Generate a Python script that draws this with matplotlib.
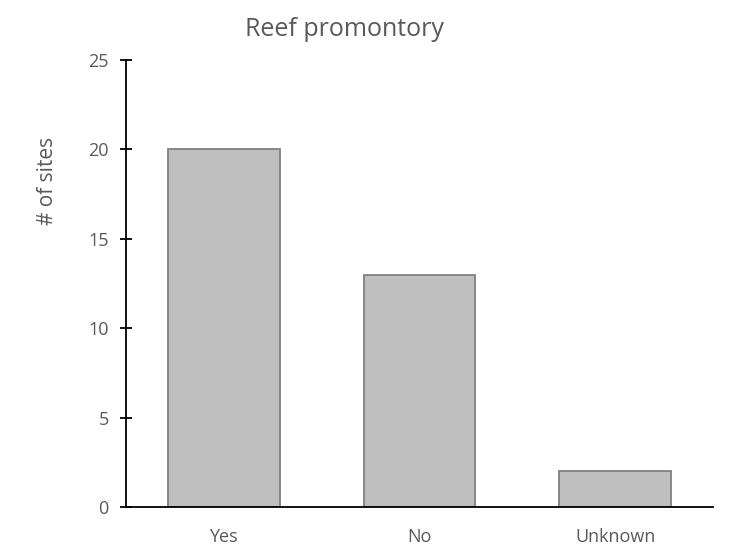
import matplotlib
matplotlib.use("Agg")
import matplotlib.pyplot as plt

categories = ["Yes", "No", "Unknown"]
values = [20, 13, 2]
yticks = [0, 5, 10, 15, 20, 25]

plt.rcParams['font.family'] = ['Open Sans', 'DejaVu Sans']
grey = '#595959'

fig = plt.figure(figsize=(7.3, 5.49), dpi=100)
ax = fig.add_axes([126/730, 42/549, (713-126)/730, (507-60)/549])
x = range(len(categories))
ax.bar(x, values, width=0.57, color='#BFBFBF', edgecolor='#808080', linewidth=1.3, zorder=2)
ax.set_xlim(-0.5, 2.5)
ax.set_ylim(0, 25)
ax.set_yticks(yticks)
ax.set_xticks(list(x))
ax.set_xticklabels(categories, color=grey, fontsize=13)
ax.tick_params(axis='x', length=0, pad=15)
ax.tick_params(axis='y', direction='inout', length=9, width=1.3, colors='black', labelcolor=grey, labelsize=13, pad=8)
for s in ['top', 'right']:
    ax.spines[s].set_visible(False)
ax.spines['left'].set_linewidth(1.3)
ax.spines['bottom'].set_linewidth(1.3)
ax.set_ylabel('# of sites', color=grey, fontsize=15)
ax.yaxis.set_label_coords(-0.116, 0.73)
fig.text(344/730, 513/549, 'Reef promontory', color=grey, fontsize=18, ha='center', va='baseline')
fig.savefig('out.png', dpi=100)
